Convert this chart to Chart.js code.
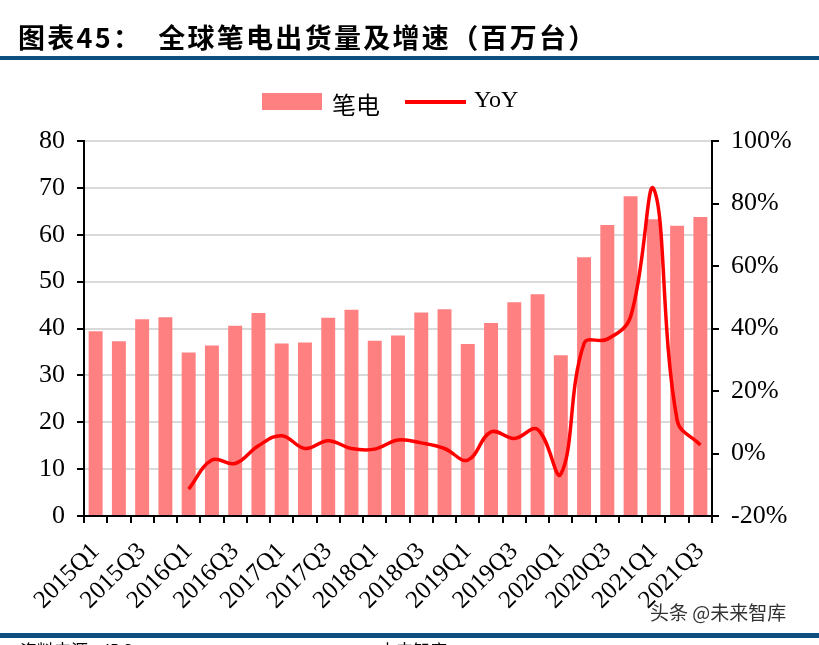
<!DOCTYPE html>
<html>
<head>
<meta charset="utf-8">
<script src="https://cdn.jsdelivr.net/npm/chart.js@4.4.1/dist/chart.umd.min.js"></script>
<style>
  html, body { margin: 0; padding: 0; background: #fff; }
  #wrap { position: relative; width: 819px; height: 645px; overflow: hidden; }
  #chart { position: absolute; left: 0; top: 0; }
  .title { position: absolute; left: 18px; top: 17px; font: bold 27px "Noto Sans CJK SC", sans-serif; color: #000; letter-spacing: 2.3px; }
  .bar-top { position: absolute; left: 0; top: 56px; width: 819px; height: 4px; background: #0f4f80; }
  .bar-bot { position: absolute; left: 0; top: 633px; width: 819px; height: 5px; background: #0f4f80; }
  .legend { position: absolute; top: 86px; font: 24px "Liberation Serif", "Noto Sans CJK SC", serif; color: #000; }
  .swatch { position: absolute; left: 262px; top: 93px; width: 60px; height: 17px; background: #ff8080; }
  .lline { position: absolute; left: 405px; top: 100px; width: 61px; height: 4px; background: #ff0000; }
  .mark { position: absolute; left: 650px; top: 598px; font: 19px "Noto Sans CJK SC", sans-serif; color: #333; }
  .src { position: absolute; left: 20px; top: 637px; font: 17px "Noto Sans CJK SC", sans-serif; color: #000; }
</style>
</head>
<body>
<div id="wrap">
  <canvas id="chart" width="819" height="645"></canvas>
  <div class="title">图表45：　全球笔电出货量及增速（百万台）</div>
  <div class="bar-top"></div>
  <div class="swatch"></div>
  <div class="legend" style="left:332px">笔电</div>
  <div class="lline"></div>
  <div class="legend" style="left:474px">YoY</div>
  <div class="mark">头条 @未来智库</div>
  <div class="bar-bot"></div>
  <div class="src">资料来源：IDC，　　　　　　　　　　　　　　未来智库</div>
</div>
<script>
const quarters = [
  "2015Q1","2015Q2","2015Q3","2015Q4",
  "2016Q1","2016Q2","2016Q3","2016Q4",
  "2017Q1","2017Q2","2017Q3","2017Q4",
  "2018Q1","2018Q2","2018Q3","2018Q4",
  "2019Q1","2019Q2","2019Q3","2019Q4",
  "2020Q1","2020Q2","2020Q3","2020Q4",
  "2021Q1","2021Q2","2021Q3"
]
// shipments, millions
const shipments = [
  39.4, 37.3, 42.0, 42.4,
  34.9, 36.4, 40.6, 43.3,
  36.8, 37.0, 42.3, 44.0,
  37.4, 38.5, 43.4, 44.1,
  36.7, 41.2, 45.6, 47.3,
  34.3, 55.2, 62.1, 68.2,
  63.3, 61.9, 63.8
]
// YoY growth, %
const yoy = [
  null, null, null, null,
  -11.4, -2.1, -3.2, 2.5,
  5.7, 1.6, 4.1, 1.6,
  1.4, 4.3, 3.4, 1.6,
  -2.1, 6.9, 4.8, 7.7,
  -6.6, 35.2, 36.6, 43.8,
  84.6, 10.7, 2.7
]
const leftTicks = [0, 10, 20, 30, 40, 50, 60, 70, 80]

const tickFont = { family: "Liberation Serif", size: 26 }

new Chart(document.getElementById("chart"), {
  data: {
    labels: quarters,
    datasets: [
      {
        type: "line",
        label: "YoY",
        data: yoy,
        yAxisID: "y1",
        borderColor: "#ff0000",
        borderWidth: 3.5,
        pointRadius: 0,
        tension: 0.4,
        spanGaps: false,
        order: 0,
      },
      {
        type: "bar",
        label: "笔电",
        data: shipments,
        yAxisID: "y",
        backgroundColor: "#ff8080",
        barPercentage: 0.6,
        categoryPercentage: 1,
        order: 1,
      },
    ],
  },
  options: {
    responsive: false,
    animation: false,
    layout: { padding: { top: 141, left: 0, right: 0, bottom: 0 } },
    plugins: { legend: { display: false }, tooltip: { enabled: false } },
    scales: {
      x: {
        offset: true,
        grid: { offset: true, drawOnChartArea: false, tickColor: "#000", tickLength: 7, lineWidth: 2 },
        border: { color: "#000", width: 2 },
        ticks: {
          autoSkip: false,
          maxRotation: 45,
          minRotation: 45,
          color: "#000",
          font: { family: "Liberation Serif", size: 25 },
          padding: 14,
          callback: (v, i) => (i % 2 === 0 ? quarters[i] : ""),
        },
        afterFit: (s) => { s.height = 129 },
      },
      y: {
        position: "left",
        min: leftTicks[0],
        max: leftTicks[leftTicks.length - 1],
        afterBuildTicks: (s) => { s.ticks = leftTicks.map((v) => ({ value: v })) },
        grid: { color: "#d9d9d9", lineWidth: 2, tickColor: "#000", tickLength: 7 },
        border: { color: "#000", width: 2 },
        ticks: { color: "#000", font: tickFont, padding: 12 },
        afterFit: (s) => { s.width = 84 },
      },
      y1: {
        position: "right",
        min: -20,
        max: 100,
        grid: { drawOnChartArea: false, tickColor: "#000", tickLength: 7, lineWidth: 2 },
        border: { color: "#000", width: 2 },
        ticks: { stepSize: 20, color: "#000", font: tickFont, padding: 12, callback: (v) => v + "%" },
        afterFit: (s) => { s.width = 107 },
      },
    },
  },
})
</script>
</body>
</html>
